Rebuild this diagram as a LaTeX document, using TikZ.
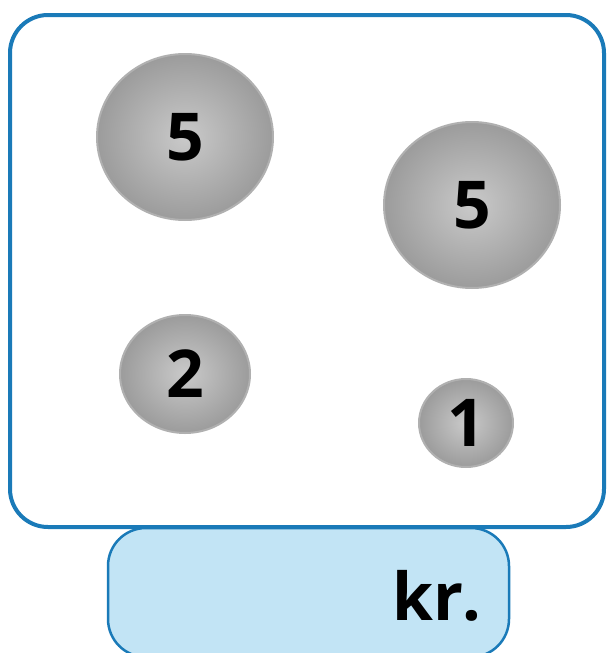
\documentclass[tikz,border=0pt]{standalone}
\usepackage{fontspec}
\setmainfont{Open Sans}
\usetikzlibrary{shapes.geometric}
\definecolor{frameblue}{HTML}{1A7AB8}
\definecolor{boxblue}{HTML}{C2E4F5}
\tikzset{
    every node/.style={font=\fontsize{66}{72}\selectfont\bfseries, text=black}
}
\tikzset{
    ball/.style={ellipse, draw=gray!62, line width=2pt, inner sep=0pt,
    	inner color=gray!42, outer color=gray!78}
}
\tikzset{
    frame/.style={draw=frameblue, line width=4pt, rounded corners=38pt}
}

\begin{document}
\begin{tikzpicture}[x=1pt, y=-1pt]
	\useasboundingbox (0,0) rectangle (607,653);
	\clip (0,0) rectangle (607,653);
	\draw[frame] (10,15) rectangle (604,527);
	\draw[draw=frameblue, fill=boxblue, line width=2.5pt, rounded corners=38pt]
		(108,528) rectangle (509,657);
	
	\node (b5a) [ball, minimum width=176pt, minimum height=166pt] at (185,137) {5};
	\node (b5b) [ball, minimum width=176pt, minimum height=166pt] at (472,205) {5};
	\node (b2) [ball, minimum width=130pt, minimum height=118pt] at (185,374) {2};
	\node (b1) [ball, minimum width=94pt, minimum height=88pt] at (466,423) {1};
	
	\node (kr) [anchor=base east, inner sep=0pt] at (482,620) {kr.};
\end{tikzpicture}
\end{document}
